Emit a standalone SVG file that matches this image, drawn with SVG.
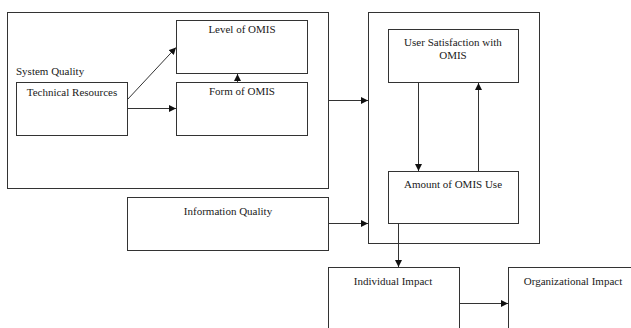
<svg xmlns="http://www.w3.org/2000/svg" width="631" height="328" viewBox="0 0 631 328">
<style>
rect{fill:none;stroke:#333;stroke-width:1}
text{font-family:"Liberation Serif","Times New Roman",serif;font-size:11px;fill:#1a1a1a}
.c{text-anchor:middle}
.l{stroke:#333;stroke-width:1;fill:none}
</style>
<defs>
<marker id="a" viewBox="0 0 10 10" refX="10" refY="5" markerWidth="7" markerHeight="7" markerUnits="userSpaceOnUse" orient="auto"><path d="M0,0L10,5L0,10z" fill="#111"/></marker>
</defs>
<rect width="631" height="328" fill="#fff" style="fill:#fff;stroke:none"/>
<g id="system-quality"><rect x="7.5" y="12.5" width="321" height="176"/><text x="16" y="75">System Quality</text></g>
<g id="level"><rect x="176.5" y="20.5" width="131" height="53"/><text class="c" x="242" y="33">Level of OMIS</text></g>
<g id="form"><rect x="176.5" y="82.5" width="131" height="53"/><text class="c" x="242" y="95">Form of OMIS</text></g>
<g id="technical"><rect x="16.5" y="82.5" width="111" height="53"/><text class="c" x="72" y="95.5">Technical Resources</text></g>
<g id="info-quality"><rect x="127.5" y="197.5" width="201" height="53"/><text class="c" x="228" y="215">Information Quality</text></g>
<g id="use-container"><rect x="368.5" y="12.5" width="171" height="231"/></g>
<g id="satisfaction"><rect x="388.5" y="29.5" width="130" height="53"/><text class="c" x="453" y="46">User Satisfaction with</text><text class="c" x="453" y="59">OMIS</text></g>
<g id="amount"><rect x="388.5" y="171.5" width="130" height="52"/><text class="c" x="453" y="188">Amount of OMIS Use</text></g>
<g id="individual"><rect x="328.5" y="267.5" width="131" height="70"/><text class="c" x="393" y="285">Individual Impact</text></g>
<g id="organizational"><rect x="508.5" y="267.5" width="131" height="70"/><text class="c" x="573" y="285">Organizational Impact</text></g>
<g id="connectors">
<path class="l" d="M127.5,99.5L176,47.5" marker-end="url(#a)"/>
<path class="l" d="M127.5,108.5H176" marker-end="url(#a)"/>
<path class="l" d="M237.5,82V74" marker-end="url(#a)"/>
<path class="l" d="M328.5,100.5H368" marker-end="url(#a)"/>
<path class="l" d="M328.5,223.5H368" marker-end="url(#a)"/>
<path class="l" d="M418.5,82.5V171" marker-end="url(#a)"/>
<path class="l" d="M478.5,171V83" marker-end="url(#a)"/>
<path class="l" d="M398.5,223.5V267" marker-end="url(#a)"/>
<path class="l" d="M459.5,303.5H508" marker-end="url(#a)"/>
</g>
</svg>
